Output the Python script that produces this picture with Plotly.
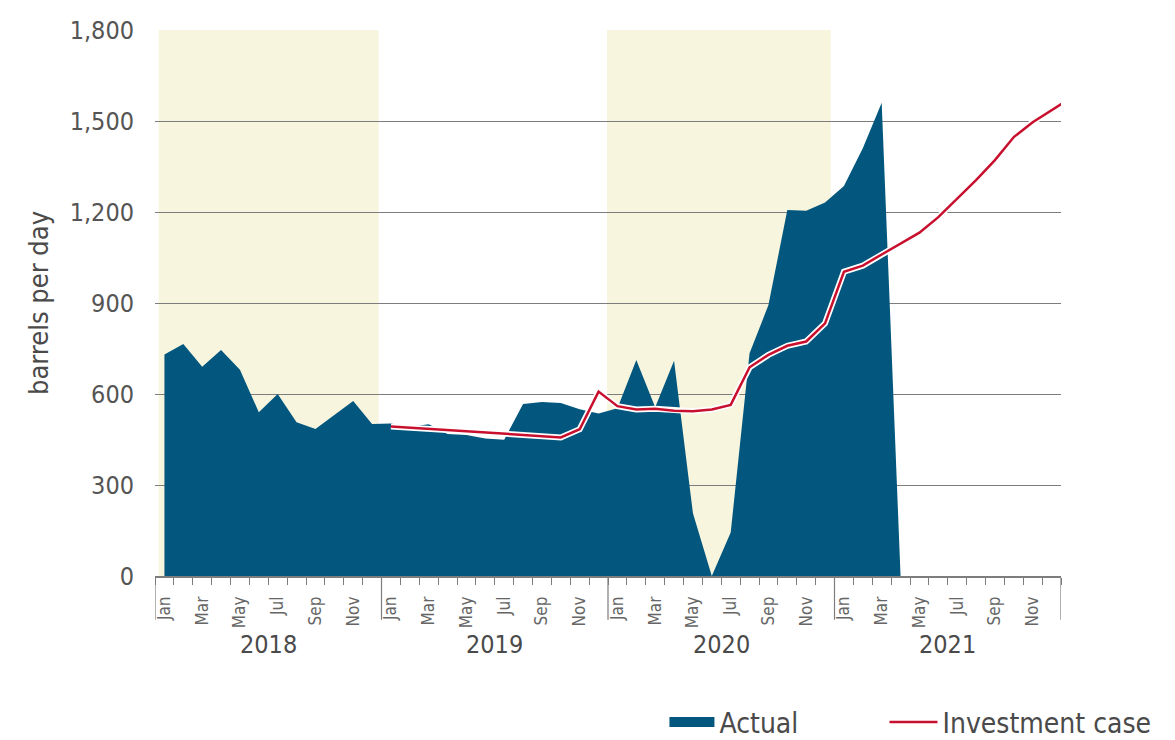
import plotly.graph_objects as go

years = [2018, 2019, 2020, 2021]
month_names = ["Jan", "Feb", "Mar", "Apr", "May", "Jun", "Jul", "Aug", "Sep", "Oct", "Nov", "Dec"]

# Actual production, Jan 2018 .. Apr 2021 (barrels per day)
actual = [
    730, 765, 690, 745, 680, 540, 600, 507, 485, 531, 577, 501,   # 2018
    503, 492, 500, 468, 465, 453, 449, 567, 574, 570, 550, 536,   # 2019
    553, 712, 556, 710, 207, 0, 143, 734, 893, 1207, 1204, 1231,  # 2020
    1286, 1410, 1560, 0,                                          # 2021 Jan-Apr
]
actual_start = 0  # month index of Jan 2018

# Investment case, Jan 2019 .. Jan 2022
investment = [
    493, 489, 485, 481, 477, 473, 469, 465, 461, 457, 484, 608,          # 2019
    560, 549, 551, 545, 543, 549, 564, 688, 729, 759, 773, 833,          # 2020
    1003, 1023, 1060, 1096, 1132, 1183, 1243, 1305, 1371, 1447, 1496, 1534,  # 2021
    1575,                                                                # Jan 2022
]
investment_start = 12  # month index of Jan 2019

n_months = len(years) * 12
x_actual = list(range(actual_start, actual_start + len(actual)))
x_inv = list(range(investment_start, investment_start + len(investment)))

FONT = "DejaVu Sans Condensed, Liberation Sans Narrow, Roboto, sans-serif"
TXT = "#4a4a4a"
BLUE = "#03577e"
RED = "#c8102e"
GRID = "#7d7d7d"

fig = go.Figure()
fig.add_trace(go.Scatter(
    x=x_actual, y=actual, mode="lines", line=dict(width=0, color=BLUE),
    fill="tozeroy", fillcolor=BLUE, name="Actual", hoverinfo="x+y",
    legendgroup="actual", showlegend=False,
))
# legend swatch for the Actual area (legend only)
fig.add_trace(go.Scatter(
    x=[None], y=[None], mode="lines", line=dict(width=21, color=BLUE),
    name="Actual", legendgroup="actual", legend="legend", hoverinfo="skip",
))
fig.add_trace(go.Scatter(
    x=x_inv, y=investment, mode="lines", line=dict(width=6, color="white"),
    showlegend=False, hoverinfo="skip", legendgroup="inv",
))
fig.add_trace(go.Scatter(
    x=x_inv, y=investment, mode="lines", line=dict(width=2.5, color=RED),
    name="Investment case", legend="legend2", legendgroup="inv",
))

shapes = []
# shaded years (2018, 2020)
for y0, y1 in [(-0.3, 11.35), (23.45, 35.3)]:
    shapes.append(dict(type="rect", xref="x", yref="paper", x0=y0, x1=y1, y0=0, y1=1,
                       fillcolor="#f7f5de", line=dict(width=0), layer="below"))
# long year-boundary ticks
for k in range(len(years) + 1):
    xb = k * 12 - 0.5
    shapes.append(dict(type="line", xref="x", yref="paper", x0=xb, x1=xb, y0=0, y1=-0.08,
                       line=dict(color=GRID, width=1.2)))

annotations = []
for k, yr in enumerate(years):
    annotations.append(dict(x=k * 12 + 5.5, y=-0.126, xref="x", yref="paper", text=str(yr),
                            showarrow=False, font=dict(family=FONT, size=25, color=TXT),
                            xanchor="center", yanchor="middle"))

tickvals = [i for i in range(n_months) if i % 2 == 0]
ticktext = [month_names[i % 12] for i in tickvals]

legend_common = dict(orientation="h", y=-0.268, xanchor="left", yanchor="middle",
                     font=dict(family=FONT, size=28, color=TXT), bgcolor="rgba(0,0,0,0)")

W, H = 1167, 732
fig.update_layout(
    width=W, height=H,
    margin=dict(l=147, r=114, t=22, b=164, autoexpand=False),
    plot_bgcolor="white", paper_bgcolor="white",
    font=dict(family=FONT, color=TXT),
    shapes=shapes, annotations=annotations,
    showlegend=True,
    legend=dict(x=0.5623, itemwidth=45, **legend_common),
    legend2=dict(x=0.8052, itemwidth=48, **legend_common),
    xaxis=dict(
        range=[-0.5, n_months - 0.5], tickvals=tickvals, ticktext=ticktext,
        tickangle=-90, ticks="", showgrid=False, zeroline=False,
        showline=True, linecolor=GRID, linewidth=1.5, ticklabelstandoff=12,
        tickfont=dict(family=FONT, size=17, color="#666666"),
        minor=dict(tickvals=[i - 0.5 for i in range(n_months + 1)], ticks="outside",
                   ticklen=7, tickcolor=GRID, tickwidth=1, showgrid=False),
    ),
    yaxis=dict(
        range=[0, 1800], tickvals=[0, 300, 600, 900, 1200, 1500, 1800], tickformat=",",
        showgrid=True, gridcolor=GRID, gridwidth=1.2, zeroline=False, showline=False,
        ticks="", ticklabelstandoff=20,
        tickfont=dict(family=FONT, size=25, color="#555555"),
        title=dict(text="barrels per day", font=dict(family=FONT, size=27, color=TXT), standoff=13),
    ),
)

fig.write_html("out.html")
